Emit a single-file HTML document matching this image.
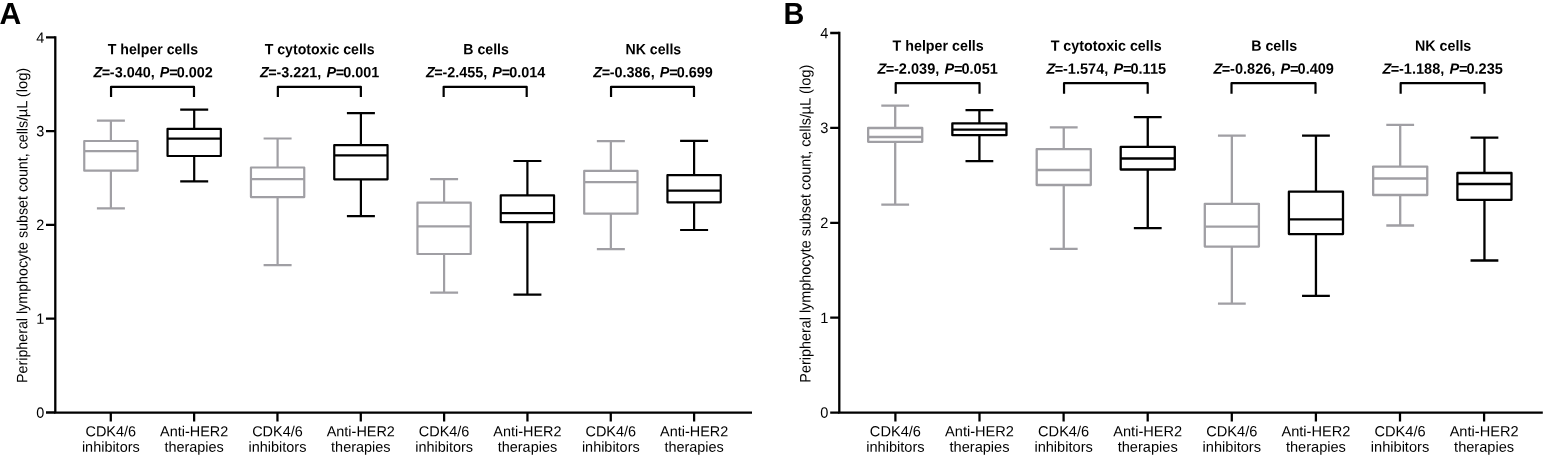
<!DOCTYPE html><html><head><meta charset="utf-8"><title>Figure</title><style>html,body{margin:0;padding:0;background:#fff}svg{display:block}text{text-rendering:geometricPrecision;font-family:"Liberation Sans",sans-serif;fill:#000}.b{font-weight:bold}.i{font-style:italic}</style></head><body>
<svg width="1547" height="460" viewBox="0 0 1547 460">
<rect width="1547" height="460" fill="#fff"/>
<g stroke="#000" stroke-width="2.3" fill="none">
<path d="M55.3 36.3V412.55H752"/>
<path d="M46 37.45H55.3M46 131.1H55.3M46 224.9H55.3M46 318.6H55.3M46 412.5H55.3"/>
<path d="M110.8 412.55V421.4M194.13 412.55V421.4M277.46 412.55V421.4M360.79 412.55V421.4M444.12 412.55V421.4M527.45 412.55V421.4M610.78 412.55V421.4M694.11 412.55V421.4" stroke-width="2.25"/>
</g>
<text transform="translate(44.4 42.65) rotate(0.05) scale(1 1.03)" font-size="14.45" text-anchor="end">4</text>
<text transform="translate(44.4 136.3) rotate(0.05) scale(1 1.03)" font-size="14.45" text-anchor="end">3</text>
<text transform="translate(44.4 230.1) rotate(0.05) scale(1 1.03)" font-size="14.45" text-anchor="end">2</text>
<text transform="translate(44.4 323.8) rotate(0.05) scale(1 1.03)" font-size="14.45" text-anchor="end">1</text>
<text transform="translate(44.4 417.7) rotate(0.05) scale(1 1.03)" font-size="14.45" text-anchor="end">0</text>
<text transform="translate(-0.6 23.9) rotate(0.05) scale(0.99 1)" font-size="30.4" class="b">A</text>
<text transform="translate(27.3 382.9) rotate(-89.95) scale(1 1.04)" font-size="14.45" textLength="266" lengthAdjust="spacingAndGlyphs">Peripheral lymphocyte subset count, cells/</text>
<text transform="translate(27.3 117.3) rotate(-89.95) scale(1 1.04)" font-size="14.45" textLength="49.5" lengthAdjust="spacingAndGlyphs">µL (log)</text>
<text transform="translate(110.8 436.3) rotate(0.05)" font-size="14.45" text-anchor="middle">CDK4/6</text>
<text transform="translate(110.8 451.8) rotate(0.05)" font-size="14.45" text-anchor="middle">inhibitors</text>
<text transform="translate(194.13 436.3) rotate(0.05)" font-size="14.45" text-anchor="middle">Anti-HER2</text>
<text transform="translate(194.13 451.8) rotate(0.05)" font-size="14.45" text-anchor="middle">therapies</text>
<text transform="translate(277.46 436.3) rotate(0.05)" font-size="14.45" text-anchor="middle">CDK4/6</text>
<text transform="translate(277.46 451.8) rotate(0.05)" font-size="14.45" text-anchor="middle">inhibitors</text>
<text transform="translate(360.79 436.3) rotate(0.05)" font-size="14.45" text-anchor="middle">Anti-HER2</text>
<text transform="translate(360.79 451.8) rotate(0.05)" font-size="14.45" text-anchor="middle">therapies</text>
<text transform="translate(444.12 436.3) rotate(0.05)" font-size="14.45" text-anchor="middle">CDK4/6</text>
<text transform="translate(444.12 451.8) rotate(0.05)" font-size="14.45" text-anchor="middle">inhibitors</text>
<text transform="translate(527.45 436.3) rotate(0.05)" font-size="14.45" text-anchor="middle">Anti-HER2</text>
<text transform="translate(527.45 451.8) rotate(0.05)" font-size="14.45" text-anchor="middle">therapies</text>
<text transform="translate(610.78 436.3) rotate(0.05)" font-size="14.45" text-anchor="middle">CDK4/6</text>
<text transform="translate(610.78 451.8) rotate(0.05)" font-size="14.45" text-anchor="middle">inhibitors</text>
<text transform="translate(694.11 436.3) rotate(0.05)" font-size="14.45" text-anchor="middle">Anti-HER2</text>
<text transform="translate(694.11 451.8) rotate(0.05)" font-size="14.45" text-anchor="middle">therapies</text>
<g stroke="#a09fa4" stroke-width="2.2" fill="none" stroke-linejoin="round"><path d="M96.9 120.6H124.9M110.9 120.6V141M110.9 170.7V208.3M96.9 208.3H124.9"/><rect x="84.25" y="141" width="53.3" height="29.7"/><path d="M84.25 151.2H137.55"/></g>
<g stroke="#000" stroke-width="2.2" fill="none" stroke-linejoin="round"><path d="M180.2 109.6H208.2M194.2 109.6V128.8M194.2 156V181.3M180.2 181.3H208.2"/><rect x="167.55" y="128.8" width="53.3" height="27.2"/><path d="M167.55 138.6H220.85"/></g>
<g stroke="#a09fa4" stroke-width="2.2" fill="none" stroke-linejoin="round"><path d="M263.6 138.5H291.6M277.6 138.5V167.5M277.6 197.1V265.2M263.6 265.2H291.6"/><rect x="250.95" y="167.5" width="53.3" height="29.6"/><path d="M250.95 179.1H304.25"/></g>
<g stroke="#000" stroke-width="2.2" fill="none" stroke-linejoin="round"><path d="M346.9 113.2H374.9M360.9 113.2V145.1M360.9 179.3V216.2M346.9 216.2H374.9"/><rect x="334.25" y="145.1" width="53.3" height="34.2"/><path d="M334.25 155.4H387.55"/></g>
<g stroke="#a09fa4" stroke-width="2.2" fill="none" stroke-linejoin="round"><path d="M430.1 179.2H458.1M444.1 179.2V202.7M444.1 254V292.6M430.1 292.6H458.1"/><rect x="417.45" y="202.7" width="53.3" height="51.3"/><path d="M417.45 226.4H470.75"/></g>
<g stroke="#000" stroke-width="2.2" fill="none" stroke-linejoin="round"><path d="M513.4 161H541.4M527.4 161V195.3M527.4 222.2V294.6M513.4 294.6H541.4"/><rect x="500.75" y="195.3" width="53.3" height="26.9"/><path d="M500.75 213.1H554.05"/></g>
<g stroke="#a09fa4" stroke-width="2.2" fill="none" stroke-linejoin="round"><path d="M596.85 141.2H624.85M610.85 141.2V170.9M610.85 213.7V249.1M596.85 249.1H624.85"/><rect x="584.2" y="170.9" width="53.3" height="42.8"/><path d="M584.2 182.1H637.5"/></g>
<g stroke="#000" stroke-width="2.2" fill="none" stroke-linejoin="round"><path d="M680.1 140.8H708.1M694.1 140.8V175.1M694.1 202.3V230M680.1 230H708.1"/><rect x="667.45" y="175.1" width="53.3" height="27.2"/><path d="M667.45 190.7H720.75"/></g>
<text transform="translate(152.97 54.3) rotate(0.05) scale(0.955 1)" font-size="14.8" text-anchor="middle" class="b">T helper cells</text>
<text transform="translate(152.27 77.3) rotate(0.05) scale(0.973 1)" font-size="14.8" text-anchor="middle" class="b"><tspan class="i" dx="0.8">Z</tspan><tspan class="i" dx="-0.8">=</tspan><tspan>-3.040, </tspan><tspan class="i" dx="1.2">P</tspan><tspan class="i" dx="-0.5">=</tspan><tspan dx="-0.7">0.002</tspan></text>
<path d="M111.05 97V86.85H194V97" stroke="#000" stroke-width="2.2" fill="none" stroke-linejoin="round"/>
<text transform="translate(319.62 54.3) rotate(0.05) scale(0.955 1)" font-size="14.8" text-anchor="middle" class="b">T cytotoxic cells</text>
<text transform="translate(318.93 77.3) rotate(0.05) scale(0.973 1)" font-size="14.8" text-anchor="middle" class="b"><tspan class="i" dx="0.8">Z</tspan><tspan class="i" dx="-0.8">=</tspan><tspan>-3.221, </tspan><tspan class="i" dx="1.2">P</tspan><tspan class="i" dx="-0.5">=</tspan><tspan dx="-0.7">0.001</tspan></text>
<path d="M277.85 97V86.85H360.87V97" stroke="#000" stroke-width="2.2" fill="none" stroke-linejoin="round"/>
<text transform="translate(486.08 54.3) rotate(0.05) scale(0.955 1)" font-size="14.8" text-anchor="middle" class="b">B cells</text>
<text transform="translate(484.83 77.3) rotate(0.05) scale(0.973 1)" font-size="14.8" text-anchor="middle" class="b"><tspan class="i" dx="0.8">Z</tspan><tspan class="i" dx="-0.8">=</tspan><tspan>-2.455, </tspan><tspan class="i" dx="1.2">P</tspan><tspan class="i" dx="-0.5">=</tspan><tspan dx="-0.7">0.014</tspan></text>
<path d="M443.65 97V86.85H526.7V97" stroke="#000" stroke-width="2.2" fill="none" stroke-linejoin="round"/>
<text transform="translate(653.34 54.3) rotate(0.05) scale(0.955 1)" font-size="14.8" text-anchor="middle" class="b">NK cells</text>
<text transform="translate(652.24 77.3) rotate(0.05) scale(0.973 1)" font-size="14.8" text-anchor="middle" class="b"><tspan class="i" dx="0.8">Z</tspan><tspan class="i" dx="-0.8">=</tspan><tspan>-0.386, </tspan><tspan class="i" dx="1.2">P</tspan><tspan class="i" dx="-0.5">=</tspan><tspan dx="-0.7">0.699</tspan></text>
<path d="M611.04 97V86.85H694V97" stroke="#000" stroke-width="2.2" fill="none" stroke-linejoin="round"/>
<g stroke="#000" stroke-width="2.3" fill="none">
<path d="M839.3 31.85V412.6H1542.8"/>
<path d="M830.2 33H839.3M830.2 127.9H839.3M830.2 222.8H839.3M830.2 317.7H839.3M830.2 412.6H839.3"/>
<path d="M895.4 412.6V421.4M979.5 412.6V421.4M1063.6 412.6V421.4M1147.7 412.6V421.4M1231.8 412.6V421.4M1315.9 412.6V421.4M1400 412.6V421.4M1484.1 412.6V421.4" stroke-width="2.25"/>
</g>
<text transform="translate(828.3 38.2) rotate(0.05) scale(1 1.03)" font-size="14.6" text-anchor="end">4</text>
<text transform="translate(828.3 133.1) rotate(0.05) scale(1 1.03)" font-size="14.6" text-anchor="end">3</text>
<text transform="translate(828.3 228) rotate(0.05) scale(1 1.03)" font-size="14.6" text-anchor="end">2</text>
<text transform="translate(828.3 322.9) rotate(0.05) scale(1 1.03)" font-size="14.6" text-anchor="end">1</text>
<text transform="translate(828.3 417.8) rotate(0.05) scale(1 1.03)" font-size="14.6" text-anchor="end">0</text>
<text transform="translate(783.5 24.1) rotate(0.05) scale(0.945 1)" font-size="30.5" class="b">B</text>
<text transform="translate(810.4 382.65) rotate(-89.95) scale(1 1.04)" font-size="14.6" textLength="268.6" lengthAdjust="spacingAndGlyphs">Peripheral lymphocyte subset count, cells/</text>
<text transform="translate(810.4 114.45) rotate(-89.95) scale(1 1.04)" font-size="14.6" textLength="50" lengthAdjust="spacingAndGlyphs">µL (log)</text>
<text transform="translate(895.4 436.3) rotate(0.05)" font-size="14.6" text-anchor="middle">CDK4/6</text>
<text transform="translate(895.4 451.8) rotate(0.05)" font-size="14.6" text-anchor="middle">inhibitors</text>
<text transform="translate(979.5 436.3) rotate(0.05)" font-size="14.6" text-anchor="middle">Anti-HER2</text>
<text transform="translate(979.5 451.8) rotate(0.05)" font-size="14.6" text-anchor="middle">therapies</text>
<text transform="translate(1063.6 436.3) rotate(0.05)" font-size="14.6" text-anchor="middle">CDK4/6</text>
<text transform="translate(1063.6 451.8) rotate(0.05)" font-size="14.6" text-anchor="middle">inhibitors</text>
<text transform="translate(1147.7 436.3) rotate(0.05)" font-size="14.6" text-anchor="middle">Anti-HER2</text>
<text transform="translate(1147.7 451.8) rotate(0.05)" font-size="14.6" text-anchor="middle">therapies</text>
<text transform="translate(1231.8 436.3) rotate(0.05)" font-size="14.6" text-anchor="middle">CDK4/6</text>
<text transform="translate(1231.8 451.8) rotate(0.05)" font-size="14.6" text-anchor="middle">inhibitors</text>
<text transform="translate(1315.9 436.3) rotate(0.05)" font-size="14.6" text-anchor="middle">Anti-HER2</text>
<text transform="translate(1315.9 451.8) rotate(0.05)" font-size="14.6" text-anchor="middle">therapies</text>
<text transform="translate(1400 436.3) rotate(0.05)" font-size="14.6" text-anchor="middle">CDK4/6</text>
<text transform="translate(1400 451.8) rotate(0.05)" font-size="14.6" text-anchor="middle">inhibitors</text>
<text transform="translate(1484.1 436.3) rotate(0.05)" font-size="14.6" text-anchor="middle">Anti-HER2</text>
<text transform="translate(1484.1 451.8) rotate(0.05)" font-size="14.6" text-anchor="middle">therapies</text>
<g stroke="#a09fa4" stroke-width="2.3" fill="none" stroke-linejoin="round"><path d="M881.3 105.6H909.1M895.2 105.6V128M895.2 141.8V204.6M881.3 204.6H909.1"/><rect x="868.15" y="128" width="54.1" height="13.8"/><path d="M868.15 137H922.25"/></g>
<g stroke="#000" stroke-width="2.3" fill="none" stroke-linejoin="round"><path d="M965.5 110.2H993.3M979.4 110.2V123.4M979.4 135.2V161.2M965.5 161.2H993.3"/><rect x="952.35" y="123.4" width="54.1" height="11.8"/><path d="M952.35 129.7H1006.45"/></g>
<g stroke="#a09fa4" stroke-width="2.3" fill="none" stroke-linejoin="round"><path d="M1049.85 127.3H1077.65M1063.75 127.3V149.1M1063.75 185V248.8M1049.85 248.8H1077.65"/><rect x="1036.7" y="149.1" width="54.1" height="35.9"/><path d="M1036.7 170H1090.8"/></g>
<g stroke="#000" stroke-width="2.3" fill="none" stroke-linejoin="round"><path d="M1133.85 117.2H1161.65M1147.75 117.2V146.9M1147.75 169.5V228.1M1133.85 228.1H1161.65"/><rect x="1120.7" y="146.9" width="54.1" height="22.6"/><path d="M1120.7 158.5H1174.8"/></g>
<g stroke="#a09fa4" stroke-width="2.3" fill="none" stroke-linejoin="round"><path d="M1217.95 135.7H1245.75M1231.85 135.7V203.8M1231.85 246.6V303.7M1217.95 303.7H1245.75"/><rect x="1204.8" y="203.8" width="54.1" height="42.8"/><path d="M1204.8 226.6H1258.9"/></g>
<g stroke="#000" stroke-width="2.3" fill="none" stroke-linejoin="round"><path d="M1302.05 135.7H1329.85M1315.95 135.7V191.7M1315.95 234.1V295.8M1302.05 295.8H1329.85"/><rect x="1288.9" y="191.7" width="54.1" height="42.4"/><path d="M1288.9 219.3H1343"/></g>
<g stroke="#a09fa4" stroke-width="2.3" fill="none" stroke-linejoin="round"><path d="M1386.3 124.8H1414.1M1400.2 124.8V166.6M1400.2 195V225.5M1386.3 225.5H1414.1"/><rect x="1373.15" y="166.6" width="54.1" height="28.4"/><path d="M1373.15 178.5H1427.25"/></g>
<g stroke="#000" stroke-width="2.3" fill="none" stroke-linejoin="round"><path d="M1470.55 137.6H1498.35M1484.45 137.6V173M1484.45 199.8V260.5M1470.55 260.5H1498.35"/><rect x="1457.4" y="173" width="54.1" height="26.8"/><path d="M1457.4 184H1511.5"/></g>
<text transform="translate(938.15 50.8) rotate(0.05) scale(0.955 1)" font-size="14.95" text-anchor="middle" class="b">T helper cells</text>
<text transform="translate(936.85 73.8) rotate(0.05) scale(0.973 1)" font-size="14.95" text-anchor="middle" class="b"><tspan class="i" dx="0.8">Z</tspan><tspan class="i" dx="-0.8">=</tspan><tspan>-2.039, </tspan><tspan class="i" dx="1.2">P</tspan><tspan class="i" dx="-0.5">=</tspan><tspan dx="-0.7">0.051</tspan></text>
<path d="M895.72 93.8V83.15H979.52V93.8" stroke="#000" stroke-width="2.2" fill="none" stroke-linejoin="round"/>
<text transform="translate(1106.15 50.8) rotate(0.05) scale(0.955 1)" font-size="14.95" text-anchor="middle" class="b">T cytotoxic cells</text>
<text transform="translate(1105.45 73.8) rotate(0.05) scale(0.973 1)" font-size="14.95" text-anchor="middle" class="b"><tspan class="i" dx="0.8">Z</tspan><tspan class="i" dx="-0.8">=</tspan><tspan>-1.574, </tspan><tspan class="i" dx="1.2">P</tspan><tspan class="i" dx="-0.5">=</tspan><tspan dx="-0.7">0.115</tspan></text>
<path d="M1064.04 93.8V83.15H1147.7V93.8" stroke="#000" stroke-width="2.2" fill="none" stroke-linejoin="round"/>
<text transform="translate(1274.15 50.8) rotate(0.05) scale(0.955 1)" font-size="14.95" text-anchor="middle" class="b">B cells</text>
<text transform="translate(1272.95 73.8) rotate(0.05) scale(0.973 1)" font-size="14.95" text-anchor="middle" class="b"><tspan class="i" dx="0.8">Z</tspan><tspan class="i" dx="-0.8">=</tspan><tspan>-0.826, </tspan><tspan class="i" dx="1.2">P</tspan><tspan class="i" dx="-0.5">=</tspan><tspan dx="-0.7">0.409</tspan></text>
<path d="M1231.52 93.8V83.15H1315.52V93.8" stroke="#000" stroke-width="2.2" fill="none" stroke-linejoin="round"/>
<text transform="translate(1443.15 50.8) rotate(0.05) scale(0.955 1)" font-size="14.95" text-anchor="middle" class="b">NK cells</text>
<text transform="translate(1441.85 73.8) rotate(0.05) scale(0.973 1)" font-size="14.95" text-anchor="middle" class="b"><tspan class="i" dx="0.8">Z</tspan><tspan class="i" dx="-0.8">=</tspan><tspan>-1.188, </tspan><tspan class="i" dx="1.2">P</tspan><tspan class="i" dx="-0.5">=</tspan><tspan dx="-0.7">0.235</tspan></text>
<path d="M1400.65 93.8V83.15H1484.52V93.8" stroke="#000" stroke-width="2.2" fill="none" stroke-linejoin="round"/>
</svg></body></html>
